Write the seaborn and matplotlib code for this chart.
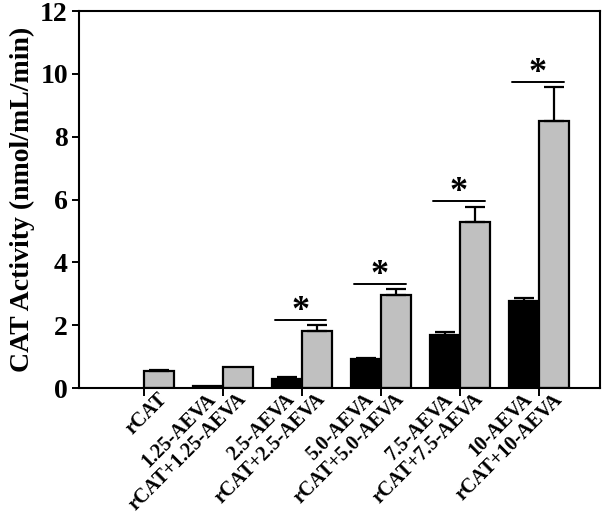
import numpy as np
import pandas as pd
import matplotlib
matplotlib.use("Agg")
import matplotlib.pyplot as plt
import matplotlib.transforms as mtrans
import seaborn as sns

# one group per concentration: AEVA alone (black) and rCAT + AEVA (gray)
GROUPS      = ["0", "1.25", "2.5", "5.0", "7.5", "10"]
AEVA_VALS   = [np.nan, 0.08, 0.29, 0.92, 1.69, 2.77]
AEVA_ERR    = [0.0, 0.0, 0.05, 0.03, 0.09, 0.09]
RCAT_VALS   = [0.55, 0.68, 1.82, 2.96, 5.28, 8.50]
RCAT_ERR    = [0.03, 0.0, 0.20, 0.19, 0.48, 1.08]
SIGNIF      = [False, False, True, True, True, True]
SIG_LEVEL   = [0, 0, 2.16, 3.31, 5.95, 9.74]

X_LABELS = ["rCAT",
            "1.25-AEVA", "rCAT+1.25-AEVA",
            "2.5-AEVA", "rCAT+2.5-AEVA",
            "5.0-AEVA", "rCAT+5.0-AEVA",
            "7.5-AEVA", "rCAT+7.5-AEVA",
            "10-AEVA", "rCAT+10-AEVA"]

SERIF = ["Liberation Serif", "DejaVu Serif"]

rows = []
for g, a, r in zip(GROUPS, AEVA_VALS, RCAT_VALS):
    if not np.isnan(a):
        rows.append({"group": g, "kind": "AEVA", "value": a})
    rows.append({"group": g, "kind": "rCAT+AEVA", "value": r})
df = pd.DataFrame(rows)

sns.set_style("ticks")
plt.rcParams["font.family"] = SERIF
plt.rcParams["font.weight"] = "bold"
plt.rcParams["text.color"] = "black"
plt.rcParams["axes.labelcolor"] = "black"
plt.rcParams["xtick.color"] = "black"
plt.rcParams["ytick.color"] = "black"

fig = plt.figure(figsize=(6.05, 5.2), dpi=100)
ax = fig.add_axes([0.1306, 0.2538, 0.8611, 0.725])

sns.barplot(data=df, x="group", y="value", hue="kind", order=GROUPS,
            hue_order=["AEVA", "rCAT+AEVA"], palette=["black", "#c0c0c0"],
            width=0.76, edgecolor="black", linewidth=1.6, saturation=1,
            errorbar=None, legend=False, ax=ax)

err_lookup = {"AEVA": AEVA_ERR, "rCAT+AEVA": RCAT_ERR}
label_pos = []
for kind, cont in zip(["AEVA", "rCAT+AEVA"], ax.containers):
    for bar in cont:
        xc = bar.get_x() + bar.get_width() / 2
        h = bar.get_height()
        if np.isnan(h):
            continue
        gi = int(round(xc))
        label_pos.append((xc, gi, kind))
        e = err_lookup[kind][gi]
        if e > 0:
            ax.errorbar(xc, h, yerr=[[0], [e]], fmt="none", ecolor="black",
                        elinewidth=1.6, capsize=7, capthick=1.6)

# significance bars with asterisks
for gi, (sig, lvl) in enumerate(zip(SIGNIF, SIG_LEVEL)):
    if sig:
        ax.plot([gi - 0.34, gi + 0.31], [lvl, lvl], color="black", lw=1.4)
        ax.annotate("*", (gi - 0.02, lvl), xytext=(0, 6), textcoords="offset points",
                    ha="center", va="center", fontsize=26, fontweight="bold",
                    family=SERIF, color="black")

ax.set_xlim(-0.82, 5.77)
ax.set_ylim(0, 12)
ax.set_yticks(range(0, 13, 2))
ax.set_ylabel("CAT Activity (nmol/mL/min)", fontsize=20, fontweight="bold", labelpad=4)
ax.set_xlabel("")

ax.set_xticks(range(len(GROUPS)))
ax.set_xticklabels([])
label_pos.sort(key=lambda t: t[0])
ax.set_xticks([p[0] for p in label_pos], minor=True)
ax.set_xticklabels(X_LABELS, minor=True, rotation=45, ha="right", va="top",
                   fontsize=14.5, fontweight="bold")
ax.tick_params(axis="x", which="minor", length=0, pad=1)
ax.tick_params(axis="x", which="major", length=6, width=1.4, direction="out")
ax.tick_params(axis="y", length=5, width=1.4, direction="out", labelsize=20, pad=3)
for lab in ax.get_yticklabels():
    lab.set_fontweight("bold")
shift = mtrans.ScaledTranslation(12 / 100, 0, fig.dpi_scale_trans)
for lab in ax.get_xticklabels(minor=True):
    lab.set_transform(lab.get_transform() + shift)

for sp in ax.spines.values():
    sp.set_visible(True)
    sp.set_linewidth(1.5)
    sp.set_color("black")

fig.savefig("out.png", dpi=100)
